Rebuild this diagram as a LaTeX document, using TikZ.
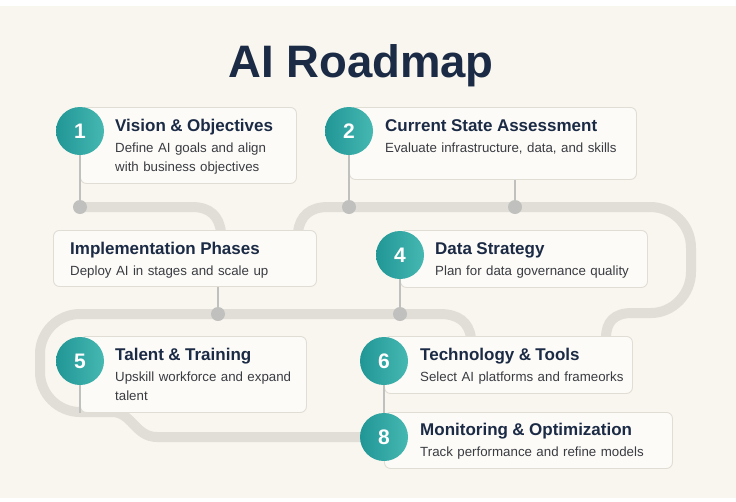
\documentclass[tikz,border=0pt]{standalone}
\usepackage{fontspec}
\setmainfont{Liberation Sans}
\usepackage{xcolor}
\usepackage{tikz}
\usetikzlibrary{positioning}
\definecolor{PaperCream}{RGB}{248, 246, 238}
\definecolor{NavyText}{RGB}{27, 42, 69}
\definecolor{BodyGray}{RGB}{58, 60, 66}
\definecolor{CardFill}{RGB}{252, 251, 247}
\definecolor{CardLine}{RGB}{224, 221, 212}
\definecolor{TrackGray}{RGB}{224, 222, 214}
\definecolor{StemGray}{RGB}{192, 192, 190}
\definecolor{TealDark}{RGB}{32, 150, 150}
\definecolor{TealLight}{RGB}{70, 184, 178}
\tikzset{
    card/.style={rectangle, draw=CardLine, fill=CardFill, line width=0.9pt, rounded corners=6pt, anchor=north west, inner sep=0pt},
    badge/.style={circle, minimum size=48pt, inner sep=0pt, left color=TealDark, right color=TealLight, text=white, font=\fontsize{21}{21}\selectfont\bfseries},
    cardtext/.style={anchor=base west, inner sep=0pt, text width=280pt, align=left, text=BodyGray, font=\fontsize{13.3}{19}\selectfont},
    track/.style={draw=TrackGray, line width=10pt},
    stem/.style={draw=StemGray, line width=1.6pt},
    dot/.style={circle, fill=StemGray, minimum size=14pt, inner sep=0pt}
}
\newcommand{\cardtitle}[1]{{\fontsize{17}{19}\selectfont\bfseries\color{NavyText}#1}\\[2pt]}

\begin{document}
\begin{tikzpicture}[x=1pt, y=-1pt]
    \useasboundingbox (0,0) rectangle (736,501);
    \fill[white] (0,0) rectangle (736,501);
    \fill[PaperCream] (0,6) rectangle (736,498);

    \node[anchor=base, text=NavyText, font=\fontsize{45.5}{50}\selectfont\bfseries] (heading) at (361,77) {AI Roadmap};

    % winding road behind the cards
    \draw[track] (80,207) -- (192,207) .. controls (210,207) and (219,216) .. (221,232);
    \draw[track] (298,232) .. controls (300,216) and (310,207) .. (328,207) -- (650,207)
        .. controls (673,207) and (691,225) .. (691,248) -- (691,272)
        .. controls (691,294) and (673,313) .. (651,313) -- (632,313)
        .. controls (614,313) and (606,322) .. (606,338);
    \draw[track] (471,338) .. controls (469,322) and (458,314) .. (440,314) -- (80,314)
        .. controls (58,314) and (40,332) .. (40,354) -- (40,372)
        .. controls (40,394) and (58,412) .. (80,412) -- (112,412)
        .. controls (132,412) and (135,437) .. (157,437) -- (384,437);

    \node[card, minimum width=216pt, minimum height=76pt] (c1) at (80,107) {};
    \node[card, minimum width=287pt, minimum height=72pt] (c2) at (349,107) {};
    \node[card, minimum width=263pt, minimum height=56pt] (c3) at (53,230) {};
    \node[card, minimum width=247pt, minimum height=57pt] (c4) at (400,230) {};
    \node[card, minimum width=226pt, minimum height=76pt] (c5) at (80,336) {};
    \node[card, minimum width=248pt, minimum height=57pt] (c6) at (384,336) {};
    \node[card, minimum width=288pt, minimum height=56pt] (c8) at (384,412) {};

    \node[badge] (n1) at ([yshift=-24pt]c1.north west) {1};
    \node[badge] (n2) at ([yshift=-24pt]c2.north west) {2};
    \node[badge] (n4) at ([yshift=-25pt]c4.north west) {4};
    \node[badge] (n5) at ([yshift=-25pt]c5.north west) {5};
    \node[badge] (n6) at ([yshift=-25pt]c6.north west) {6};
    \node[badge] (n8) at ([yshift=-25pt]c8.north west) {8};

    \node[dot] (d1) at (80,207) {};
    \node[dot] (d2) at (349,207) {};
    \node[dot] (d3) at (515,207) {};
    \node[dot] (d4) at (218,314) {};
    \node[dot] (d5) at (400,314) {};

    \draw[stem] (n1.south) -- (d1.center);
    \draw[stem] (n2.south) -- (d2.center);
    \draw[stem] (c2.south -| d3) -- (d3.center);
    \draw[stem] (c3.south -| d4) -- (d4.center);
    \draw[stem] (n4.south) -- (d5.center);
    \draw[stem] (n5.south) -- (c5.south west);
    \draw[stem] (n6.south) -- (n8.north);

    \node[cardtext] (t1) at ([shift={(35,24)}]c1.north west) {\cardtitle{Vision \& Objectives}Define AI goals and align\\with business objectives};
    \node[cardtext] (t2) at ([shift={(36,24)}]c2.north west) {\cardtitle{Current State Assessment}Evaluate infrastructure, data, and skills};
    \node[cardtext] (t3) at ([shift={(17,24)}]c3.north west) {\cardtitle{Implementation Phases}Deploy AI in stages and scale up};
    \node[cardtext] (t4) at ([shift={(35,24)}]c4.north west) {\cardtitle{Data Strategy}Plan for data governance quality};
    \node[cardtext] (t5) at ([shift={(35,24)}]c5.north west) {\cardtitle{Talent \& Training}Upskill workforce and expand\\talent};
    \node[cardtext] (t6) at ([shift={(36,24)}]c6.north west) {\cardtitle{Technology \& Tools}Select AI platforms and frameorks};
    \node[cardtext] (t8) at ([shift={(36,23)}]c8.north west) {\cardtitle{Monitoring \& Optimization}Track performance and refine models};
\end{tikzpicture}
\end{document}
